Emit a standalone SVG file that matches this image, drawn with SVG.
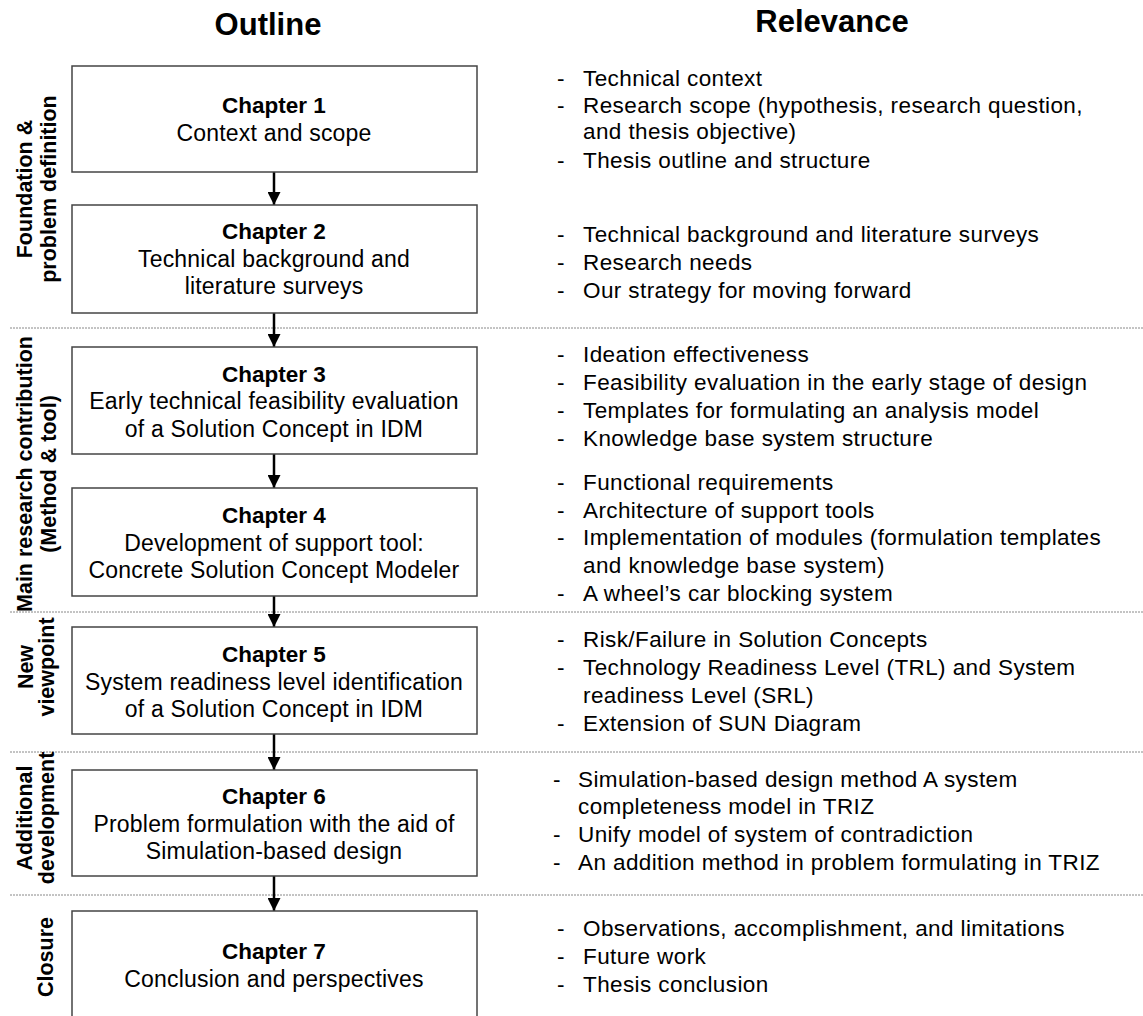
<svg xmlns="http://www.w3.org/2000/svg" width="1143" height="1016" viewBox="0 0 1143 1016">
<defs>
<style>
text{font-family:"Liberation Sans",Arial,Helvetica,sans-serif;fill:#000}
.title{font-size:31px;font-weight:bold;text-anchor:middle}
.box{fill:#fff;stroke:#444;stroke-width:1.5}
.bt{font-size:23px;letter-spacing:0.2px;text-anchor:middle}
.bh{font-size:22.5px;font-weight:bold;text-anchor:middle}
.rt{font-size:22.5px;letter-spacing:0.4px}
.side{font-size:21.5px;font-weight:bold;text-anchor:middle}
.sep{stroke:#888;stroke-width:1;stroke-dasharray:2 1;fill:none}
.arr{stroke:#000;stroke-width:2.5;fill:none;marker-end:url(#ah)}
</style>
<marker id="ah" viewBox="0 0 10 10" refX="10" refY="5" markerWidth="13" markerHeight="13" markerUnits="userSpaceOnUse" orient="auto">
<path d="M0,0 L10,5 L0,10 z" fill="#000"/>
</marker>
</defs>
<rect width="1143" height="1016" fill="#fff"/>

<text class="title" x="268" y="35">Outline</text>
<text class="title" x="832" y="32">Relevance</text>

<g id="separators">
<line class="sep" x1="10" y1="328" x2="1143" y2="328"/>
<line class="sep" x1="10" y1="612" x2="1143" y2="612"/>
<line class="sep" x1="10" y1="752" x2="1143" y2="752"/>
<line class="sep" x1="10" y1="895" x2="1143" y2="895"/>
</g>

<g id="side-labels">
<text class="side" transform="translate(32,189) rotate(-90)">Foundation &amp;</text>
<text class="side" transform="translate(56,189) rotate(-90)">problem definition</text>
<text class="side" transform="translate(32,474) rotate(-90)">Main research contribution</text>
<text class="side" transform="translate(56,474) rotate(-90)">(Method &amp; tool)</text>
<text class="side" transform="translate(33,667) rotate(-90)">New</text>
<text class="side" transform="translate(54,667) rotate(-90)">viewpoint</text>
<text class="side" transform="translate(32,818) rotate(-90)">Additional</text>
<text class="side" transform="translate(54,818) rotate(-90)">development</text>
<text class="side" transform="translate(53,957) rotate(-90)">Closure</text>
</g>

<g id="connectors">
<line class="arr" x1="274" y1="172" x2="274" y2="205"/>
<line class="arr" x1="274" y1="313" x2="274" y2="347"/>
<line class="arr" x1="274" y1="454" x2="274" y2="488"/>
<line class="arr" x1="274" y1="596" x2="274" y2="627"/>
<line class="arr" x1="274" y1="734" x2="274" y2="770"/>
<line class="arr" x1="274" y1="876" x2="274" y2="911"/>
</g>

<g id="ch1">
<rect class="box" x="72" y="66" width="405" height="106"/>
<text class="bh" x="274" y="113">Chapter 1</text>
<text class="bt" x="274" y="141">Context and scope</text>
</g>
<g id="ch2">
<rect class="box" x="72" y="205" width="405" height="108"/>
<text class="bh" x="274" y="239">Chapter 2</text>
<text class="bt" x="274" y="267">Technical background and</text>
<text class="bt" x="274" y="294">literature surveys</text>
</g>
<g id="ch3">
<rect class="box" x="72" y="347" width="405" height="107"/>
<text class="bh" x="274" y="382">Chapter 3</text>
<text class="bt" x="274" y="409">Early technical feasibility evaluation</text>
<text class="bt" x="274" y="437">of a Solution Concept in IDM</text>
</g>
<g id="ch4">
<rect class="box" x="72" y="488" width="405" height="108"/>
<text class="bh" x="274" y="523">Chapter 4</text>
<text class="bt" x="274" y="551">Development of support tool:</text>
<text class="bt" x="274" y="578">Concrete Solution Concept Modeler</text>
</g>
<g id="ch5">
<rect class="box" x="72" y="627" width="405" height="107"/>
<text class="bh" x="274" y="662">Chapter 5</text>
<text class="bt" x="274" y="690">System readiness level identification</text>
<text class="bt" x="274" y="717">of a Solution Concept in IDM</text>
</g>
<g id="ch6">
<rect class="box" x="72" y="770" width="405" height="106"/>
<text class="bh" x="274" y="804">Chapter 6</text>
<text class="bt" x="274" y="832">Problem formulation with the aid of</text>
<text class="bt" x="274" y="859">Simulation-based design</text>
</g>
<g id="ch7">
<rect class="box" x="72" y="911" width="405" height="120"/>
<text class="bh" x="274" y="959">Chapter 7</text>
<text class="bt" x="274" y="987">Conclusion and perspectives</text>
</g>

<g id="relevance1">
<text class="rt" x="557" y="86">-</text><text class="rt" x="583" y="86">Technical context</text>
<text class="rt" x="557" y="113">-</text><text class="rt" x="583" y="113">Research scope (hypothesis, research question,</text>
<text class="rt" x="583" y="139">and thesis objective)</text>
<text class="rt" x="557" y="168">-</text><text class="rt" x="583" y="168">Thesis outline and structure</text>
</g>
<g id="relevance2">
<text class="rt" x="557" y="242">-</text><text class="rt" x="583" y="242">Technical background and literature surveys</text>
<text class="rt" x="557" y="270">-</text><text class="rt" x="583" y="270">Research needs</text>
<text class="rt" x="557" y="298">-</text><text class="rt" x="583" y="298">Our strategy for moving forward</text>
</g>
<g id="relevance3">
<text class="rt" x="557" y="362">-</text><text class="rt" x="583" y="362">Ideation effectiveness</text>
<text class="rt" x="557" y="390">-</text><text class="rt" x="583" y="390">Feasibility evaluation in the early stage of design</text>
<text class="rt" x="557" y="418">-</text><text class="rt" x="583" y="418">Templates for formulating an analysis model</text>
<text class="rt" x="557" y="446">-</text><text class="rt" x="583" y="446">Knowledge base system structure</text>
</g>
<g id="relevance4">
<text class="rt" x="557" y="490">-</text><text class="rt" x="583" y="490">Functional requirements</text>
<text class="rt" x="557" y="518">-</text><text class="rt" x="583" y="518">Architecture of support tools</text>
<text class="rt" x="557" y="545">-</text><text class="rt" x="583" y="545">Implementation of modules (formulation templates</text>
<text class="rt" x="583" y="573">and knowledge base system)</text>
<text class="rt" x="557" y="601">-</text><text class="rt" x="583" y="601">A wheel’s car blocking system</text>
</g>
<g id="relevance5">
<text class="rt" x="557" y="647">-</text><text class="rt" x="583" y="647">Risk/Failure in Solution Concepts</text>
<text class="rt" x="557" y="675">-</text><text class="rt" x="583" y="675">Technology Readiness Level (TRL) and System</text>
<text class="rt" x="583" y="703">readiness Level (SRL)</text>
<text class="rt" x="557" y="731">-</text><text class="rt" x="583" y="731">Extension of SUN Diagram</text>
</g>
<g id="relevance6">
<text class="rt" x="553" y="787">-</text><text class="rt" x="578" y="787">Simulation-based design method A system</text>
<text class="rt" x="578" y="814">completeness model in TRIZ</text>
<text class="rt" x="553" y="842">-</text><text class="rt" x="578" y="842">Unify model of system of contradiction</text>
<text class="rt" x="553" y="870">-</text><text class="rt" x="578" y="870">An addition method in problem formulating in TRIZ</text>
</g>
<g id="relevance7">
<text class="rt" x="557" y="936">-</text><text class="rt" x="583" y="936">Observations, accomplishment, and limitations</text>
<text class="rt" x="557" y="964">-</text><text class="rt" x="583" y="964">Future work</text>
<text class="rt" x="557" y="992">-</text><text class="rt" x="583" y="992">Thesis conclusion</text>
</g>
</svg>
